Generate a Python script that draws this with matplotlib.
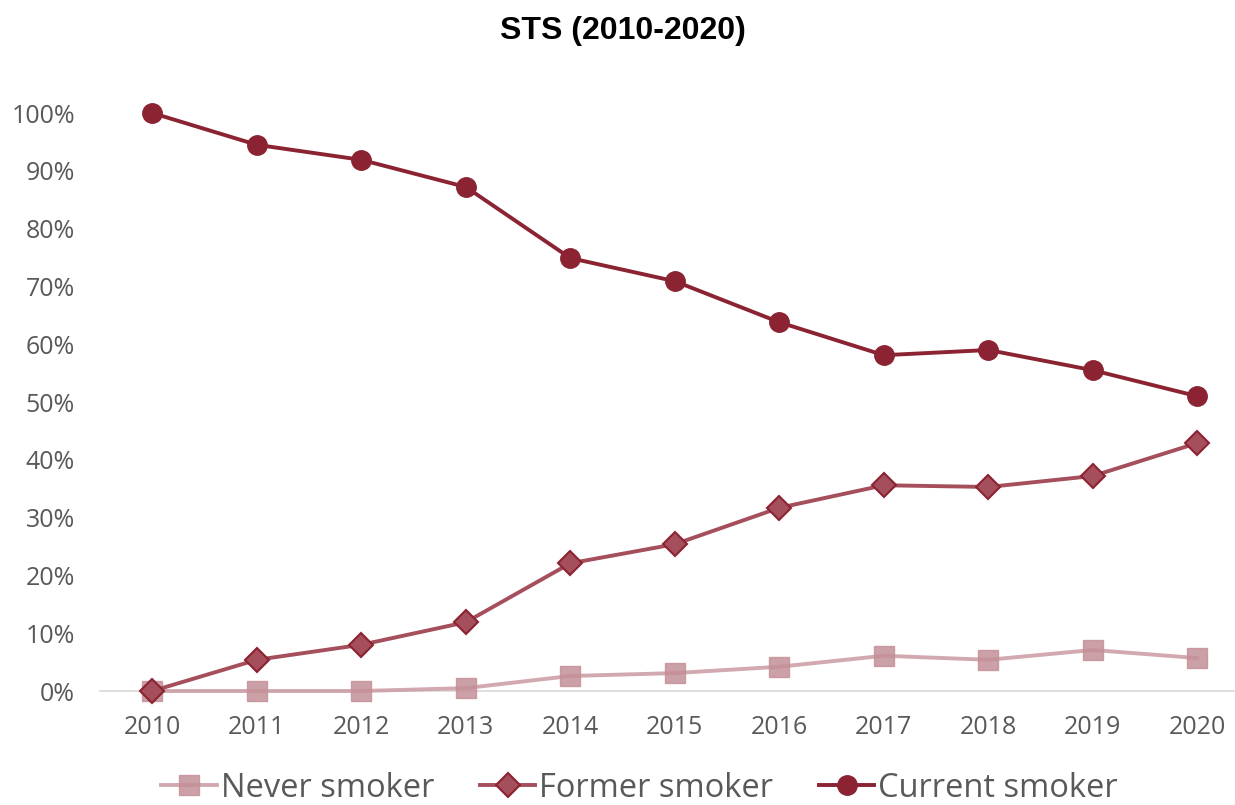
import matplotlib.pyplot as plt
from matplotlib.ticker import PercentFormatter

years = [2010, 2011, 2012, 2013, 2014, 2015, 2016, 2017, 2018, 2019, 2020]
never = [0.0, 0.0, 0.0, 0.5, 2.6, 3.1, 4.2, 6.1, 5.4, 7.1, 5.7]
former = [0.0, 5.4, 8.0, 11.9, 22.1, 25.4, 31.7, 35.6, 35.3, 37.2, 42.9]
current = [100.0, 94.5, 91.9, 87.2, 74.9, 70.9, 63.8, 58.1, 59.0, 55.5, 51.0]

plt.rcParams['font.family'] = ['Open Sans', 'DejaVu Sans']

fig = plt.figure(figsize=(12.35, 8.05), dpi=100)
ax = fig.add_axes([0.081, 0.1416, 0.919, 0.718])

ax.plot(years, never, color='#c99aa1', lw=2.8, marker='s', ms=14,
        mfc='#c48f98', mec='#c48f98', alpha=0.85, label='Never smoker', clip_on=False, zorder=3)
ax.plot(years, former, color='#a54e5c', lw=2.8, marker='D', ms=12,
        mfc='#a54e5c', mec='#8b2332', mew=1.5, label='Former smoker', clip_on=False, zorder=4)
ax.plot(years, current, color='#8b2332', lw=2.8, marker='o', ms=14,
        mfc='#8b2332', mec='#8b2332', label='Current smoker', clip_on=False, zorder=5)

ax.set_xlim(2009.5, 2020.36)
ax.set_ylim(0, 100)
ax.set_xticks(years)
ax.set_yticks(range(0, 101, 10))
ax.yaxis.set_major_formatter(PercentFormatter(decimals=0))
ax.tick_params(length=0, labelsize=18, labelcolor='#595959')
ax.tick_params(axis='y', pad=18)
ax.tick_params(axis='x', pad=17)
for s in ['top', 'right', 'left']:
    ax.spines[s].set_visible(False)
ax.spines['bottom'].set_color('#d9d9d9')
ax.spines['bottom'].set_linewidth(1.2)
ax.spines['bottom'].set_zorder(1)

fig.suptitle('STS (2010-2020)', x=0.504, y=0.98, fontsize=23, fontweight='bold',
             family='Liberation Sans')

leg = fig.legend(loc='lower center', bbox_to_anchor=(0.518, -0.036), ncol=3, frameon=False,
                 fontsize=23.5, handlelength=1.7, columnspacing=1.4, handletextpad=0.12)
for t in leg.get_texts():
    t.set_color('#595959')

fig.savefig('out.png', dpi=100)
